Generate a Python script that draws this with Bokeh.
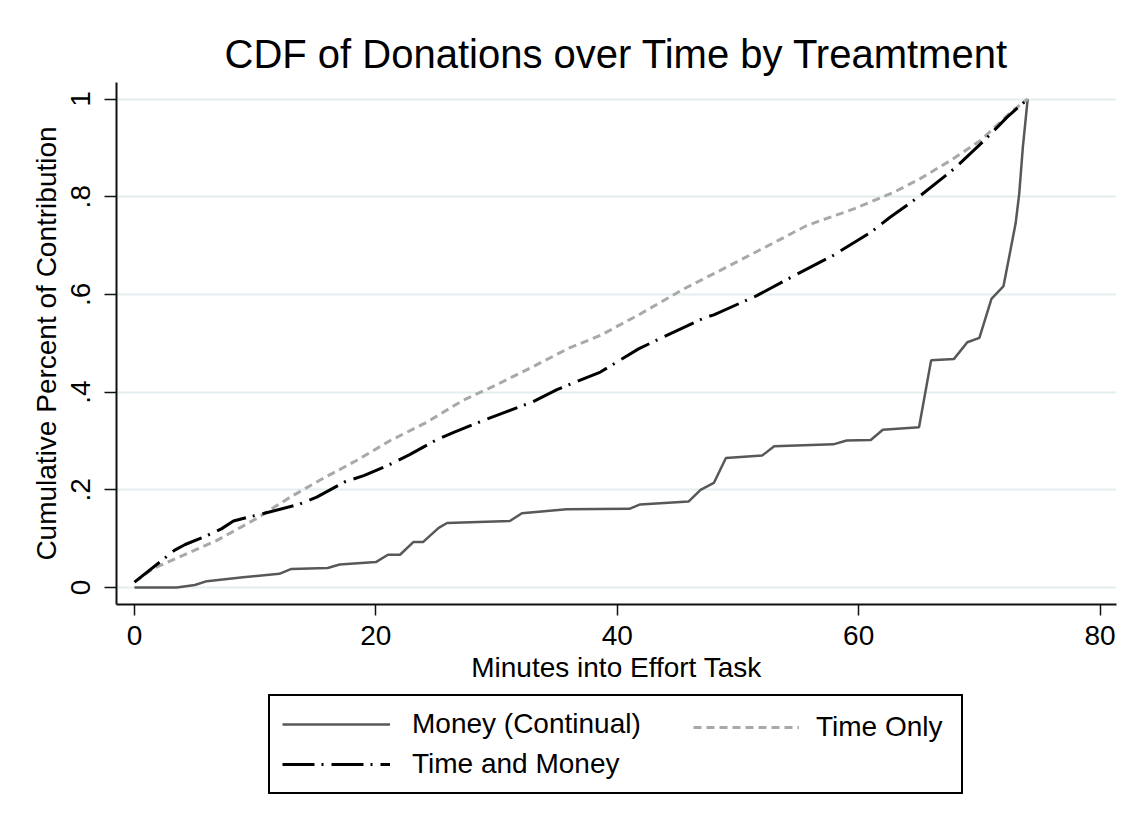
from bokeh.plotting import figure
from bokeh.layouts import column
from bokeh.models import Range1d, FixedTicker, Legend, LegendItem
from bokeh.embed import file_html
from bokeh.resources import INLINE

# ---- data ----
money_x = [0, 3.5, 5.0, 6.0, 9.0, 12.0, 13.0, 16.0, 17.0, 20.0, 21.0, 22.0, 23.1, 23.9,
           25.2, 25.9, 31.1, 32.1, 35.8, 41.0, 41.9, 45.9, 46.9, 48.0, 49.0, 52.0,
           53.0, 57.9, 59.0, 61.0, 62.0, 65.0, 66.0, 67.9, 69.0, 70.0, 71.0, 72.0,
           73.0, 73.3, 73.6, 74.0]
money_y = [0.0, 0.0, 0.005, 0.013, 0.021, 0.028, 0.038, 0.040, 0.047, 0.052, 0.067, 0.067,
           0.093, 0.093, 0.122, 0.132, 0.136, 0.152, 0.160, 0.161, 0.170, 0.176, 0.200,
           0.214, 0.265, 0.270, 0.289, 0.293, 0.301, 0.302, 0.323, 0.328, 0.465, 0.468,
           0.502, 0.511, 0.591, 0.617, 0.745, 0.806, 0.901, 1.0]

time_x = [0, 1.5, 4.3, 6.8, 10.1, 12.9, 15.6, 18.4, 21.2, 24.2, 27.2, 30.0, 33.0, 36.0,
          38.6, 41.9, 45.5, 49.7, 53.3, 55.7, 59.6, 62.9, 65.1, 67.6, 70.1, 72.6, 74.0]
time_y = [0.011, 0.038, 0.069, 0.096, 0.141, 0.185, 0.223, 0.260, 0.301, 0.338, 0.383,
          0.415, 0.452, 0.490, 0.516, 0.560, 0.611, 0.664, 0.710, 0.741, 0.775, 0.809,
          0.837, 0.874, 0.915, 0.973, 1.0]

tm_x = [0, 2.1, 3.3, 4.2, 5.8, 7.2, 8.2, 9.6, 11.1, 13.6, 15.1, 17.4, 19.0, 21.0, 22.8,
        25.0, 26.5, 28.9, 30.4, 32.9, 35.0, 36.5, 38.6, 41.8, 44.1, 47.2, 48.0, 51.6,
        54.4, 57.9, 61.0, 62.6, 65.1, 67.9, 70.4, 72.3, 74.0]
tm_y = [0.011, 0.052, 0.076, 0.088, 0.104, 0.120, 0.136, 0.145, 0.154, 0.170, 0.185,
        0.216, 0.229, 0.250, 0.272, 0.302, 0.318, 0.342, 0.356, 0.379, 0.405, 0.420,
        0.441, 0.489, 0.516, 0.552, 0.558, 0.598, 0.635, 0.680, 0.727, 0.758, 0.802,
        0.857, 0.915, 0.963, 1.0]

x_ticks = [0, 20, 40, 60, 80]
y_ticks = [0, 0.2, 0.4, 0.6, 0.8, 1.0]
y_tick_labels = {0: "0", 0.2: ".2", 0.4: ".4", 0.6: ".6", 0.8: ".8", 1.0: "1"}

series_names = ["Money (Continual)", "Time Only", "Time and Money"]

FONT = "Liberation Sans"
STYLES = [dict(line_color="#585858", line_width=2.5),
          dict(line_color="#a9a9a9", line_width=3, line_dash="8 5"),
          dict(line_color="black", line_width=3, line_dash="32 7 2 8")]

# ---------------- main chart ----------------
p = figure(width=1140, height=690, output_backend="svg", toolbar_location=None,
           x_range=Range1d(-1.49, 81.36), y_range=Range1d(-0.0348, 1.0338),
           min_border_left=116, min_border_right=24, min_border_top=82,
           min_border_bottom=86, background_fill_color="white",
           border_fill_color="white")
p.outline_line_color = None

p.title.text = "CDF of Donations over Time by Treamtment"
p.title.text_font = FONT
p.title.text_font_size = "40px"
p.title.text_font_style = "normal"
p.title.text_color = "black"
p.title.align = "center"
p.title.standoff = 14

p.xgrid.grid_line_color = None
p.ygrid.grid_line_color = "#e4edf0"
p.ygrid.grid_line_width = 2
p.ygrid.ticker = FixedTicker(ticks=y_ticks)

for ax in (p.xaxis[0], p.yaxis[0]):
    ax.axis_line_color = "#111111"
    ax.axis_line_width = 2
    ax.major_tick_line_color = "#111111"
    ax.major_tick_line_width = 1.5
    ax.minor_tick_line_color = None
    ax.major_label_text_font = FONT
    ax.major_label_text_font_size = "28px"
    ax.major_label_text_color = "black"
    ax.axis_label_text_font = FONT
    ax.axis_label_text_font_size = "28px"
    ax.axis_label_text_font_style = "normal"
    ax.axis_label_text_color = "black"
    ax.major_tick_in = 0

p.xaxis[0].ticker = FixedTicker(ticks=x_ticks)
p.xaxis[0].major_tick_out = 11
p.xaxis[0].major_label_standoff = 10
p.xaxis[0].axis_label = "Minutes into Effort Task"
p.xaxis[0].axis_label_standoff = 4

p.yaxis[0].ticker = FixedTicker(ticks=y_ticks)
p.yaxis[0].major_label_overrides = y_tick_labels
p.yaxis[0].major_label_orientation = "vertical"
p.yaxis[0].major_tick_out = 12
p.yaxis[0].major_label_standoff = 14
p.yaxis[0].axis_label = "Cumulative Percent of Contribution"
p.yaxis[0].axis_label_standoff = 7

p.line(money_x, money_y, **STYLES[0])
p.line(time_x, time_y, **STYLES[1])
p.line(tm_x, tm_y, **STYLES[2])

# ---------------- legend strip below the chart ----------------
q = figure(width=1140, height=135, output_backend="svg", toolbar_location=None,
           x_range=Range1d(-1.49, 81.36), y_range=Range1d(0, 1), title=None,
           x_axis_location=None, y_axis_location=None,
           min_border_left=0, min_border_right=0, min_border_top=0,
           min_border_bottom=0, background_fill_color="white",
           border_fill_color="white")
q.outline_line_color = None
q.xgrid.visible = False
q.ygrid.visible = False

# legend-key renderers (hidden; only their styles are shown in the legend)
k1 = q.line(money_x, money_y, visible=False, **STYLES[0])
k2 = q.line(time_x, time_y, visible=False, **STYLES[1])
k3 = q.line(tm_x, tm_y, visible=False, **STYLES[2])

def style_legend(lg):
    lg.label_text_font = FONT
    lg.label_text_font_size = "28px"
    lg.label_text_color = "black"
    lg.glyph_height = 32
    lg.label_height = 32
    lg.spacing = 8
    lg.margin = 0
    lg.inactive_fill_alpha = 0
    lg.click_policy = "none"

legA = Legend(items=[LegendItem(label=series_names[0], renderers=[k1]),
                     LegendItem(label=series_names[2], renderers=[k3])],
              location=(152, 31))
style_legend(legA)
legA.padding = 12
legA.glyph_width = 108
legA.label_standoff = 22
legA.label_width = 537
legA.border_line_color = "black"
legA.border_line_width = 2
legA.border_line_alpha = 1
legA.background_fill_color = "white"
legA.background_fill_alpha = 1

legB = Legend(items=[LegendItem(label=series_names[1], renderers=[k2])],
              location=(577, 82))
style_legend(legB)
legB.padding = 0
legB.glyph_width = 106
legB.label_standoff = 17
legB.border_line_color = None
legB.background_fill_alpha = 0

q.add_layout(legA)
q.add_layout(legB)

page = column(p, q, spacing=0)
open("out.html", "w").write(file_html(page, INLINE))
